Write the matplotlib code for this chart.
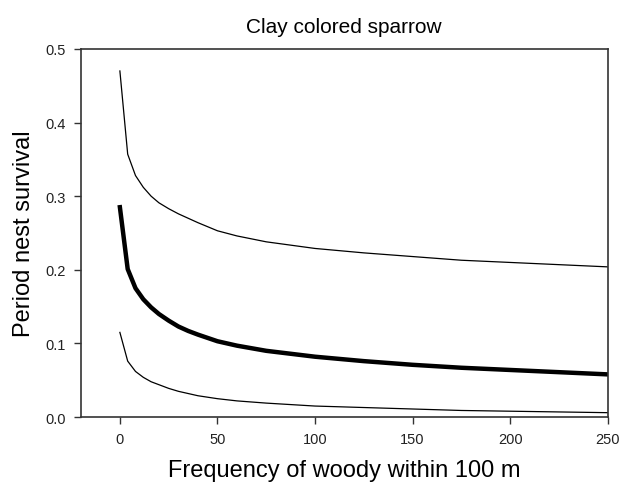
import matplotlib
matplotlib.use('Agg')
import matplotlib.pyplot as plt

plt.rcParams['font.family'] = ['Liberation Sans', 'DejaVu Sans']

# frequency of woody cover within 100 m
woody = [0, 4, 8, 12, 16, 20, 25, 30, 35, 40, 50, 60, 75, 100, 125, 150, 175, 200, 225, 250]
# predicted period nest survival and 95% limits
survival = [0.285, 0.201, 0.175, 0.160, 0.149, 0.140, 0.131, 0.123, 0.117, 0.112,
            0.103, 0.097, 0.090, 0.082, 0.076, 0.071, 0.067, 0.064, 0.061, 0.058]
upper = [0.470, 0.357, 0.328, 0.312, 0.300, 0.291, 0.283, 0.276, 0.270, 0.264,
         0.253, 0.246, 0.238, 0.229, 0.223, 0.218, 0.213, 0.210, 0.207, 0.204]
lower = [0.115, 0.076, 0.062, 0.054, 0.048, 0.044, 0.039, 0.035, 0.032, 0.029,
         0.025, 0.022, 0.019, 0.015, 0.013, 0.011, 0.009, 0.008, 0.007, 0.006]

fig = plt.figure(figsize=(6.22, 4.89), dpi=100)
ax = fig.add_axes([0.130, 0.145, 0.847, 0.753])

ax.plot(woody, survival, color='black', lw=3.2)
ax.plot(woody, upper, color='black', lw=0.9)
ax.plot(woody, lower, color='black', lw=0.9)

ax.set_xlim(-20, 250)
ax.set_ylim(0, 0.5)
ax.set_xticks([0, 50, 100, 150, 200, 250])
ax.set_yticks([0.0, 0.1, 0.2, 0.3, 0.4, 0.5])
ax.set_yticklabels(['0.0', '0.1', '0.2', '0.3', '0.4', '0.5'])
ax.tick_params(direction='out', length=5, width=1, pad=6, labelsize=10.5,
               color='#333333', labelcolor='#222222')
for s in ax.spines.values():
    s.set_linewidth(1.2)
    s.set_color('#333333')

ax.set_title('Clay colored sparrow', fontsize=15, pad=12)
ax.set_xlabel('Frequency of woody within 100 m', fontsize=17, labelpad=9)
ax.set_ylabel('Period nest survival', fontsize=17, labelpad=7)

fig.savefig('out.png', dpi=100)
